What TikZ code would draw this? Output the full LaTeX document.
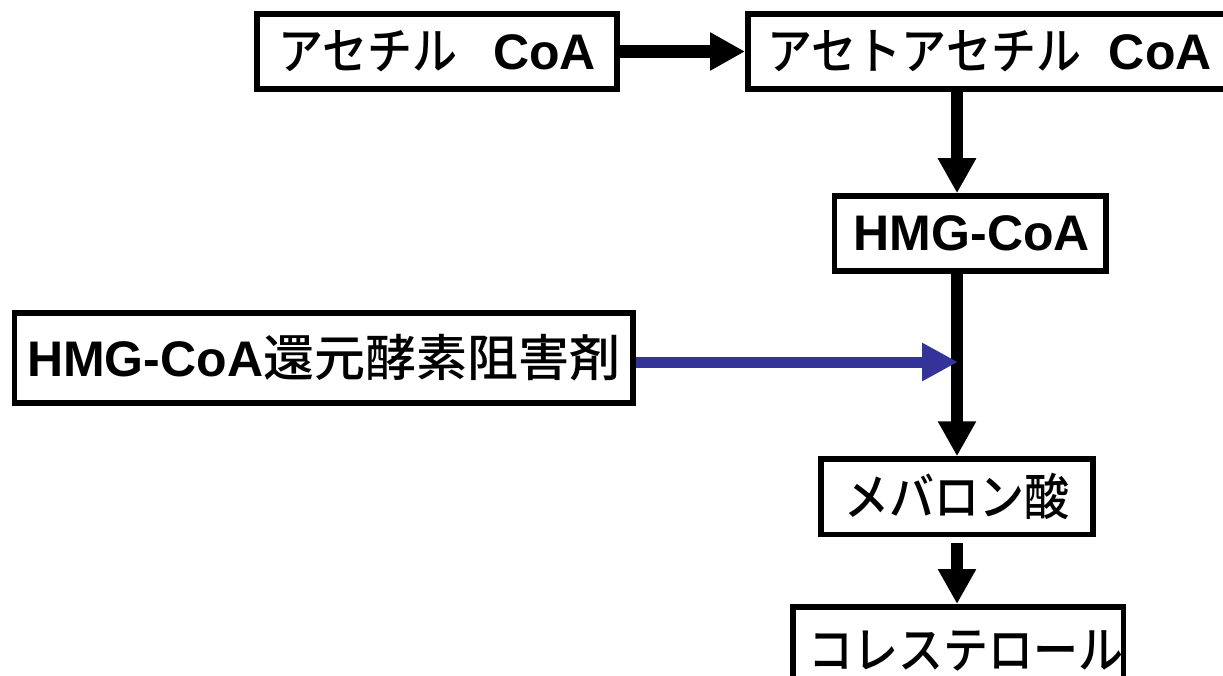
\documentclass[tikz,border=0pt]{standalone}
\usepackage{fontspec}
\setmainfont{Liberation Sans}
\newfontfamily\jp{Noto Sans CJK JP Medium}[FakeStretch=0.9, BoldFont={Noto Sans CJK JP Medium}]
\newfontfamily\jpw{Noto Sans CJK JP Medium}[FakeStretch=1.02, BoldFont={Noto Sans CJK JP Medium}]
\usetikzlibrary{arrows.meta}
\definecolor{inhib}{RGB}{51,51,153}
\begin{document}
\begin{tikzpicture}[x=1pt,y=-1pt,
  font=\fontsize{50}{60}\selectfont\bfseries,
  box/.style={draw, line width=5.5pt, inner sep=0pt, fill=white},
  arr/.style={line width=12.5pt, -{Triangle[length=35pt,width=36pt]}},
  inhibarr/.style={draw=inhib, line width=11pt, -{Triangle[length=36pt,width=36pt,fill=inhib]}}]
\useasboundingbox (0,0) rectangle (1223,676);
\clip (0,0) rectangle (1223,676);
\node[box, minimum width=360pt, minimum height=75pt] (A) at (437,51.5) {{\jp アセチル}\hspace{36pt}CoA};
\node[box, anchor=west, minimum height=75pt, inner xsep=20pt] (B) at (745,51.5) {\makebox[500pt][l]{{\jp アセトアセチル}\hspace{28pt}CoA}};
\node[box, minimum width=271.5pt, minimum height=75pt] (H) at (970.25,233.5) {\hspace{3pt}HMG-CoA};
\node[box, minimum width=618.5pt, minimum height=90pt] (I) at (323.75,358) {HMG-CoA{\jpw 還元酵素阻害剤}};
\node[box, minimum width=272pt, minimum height=75.5pt] (M) at (957,496.75) {\jp メバロン酸};
\node[box, anchor=north west, minimum height=88pt, inner xsep=16pt] (C) at (790,604) {\makebox[298.5pt][l]{\jp コレステロール}};
\coordinate (axis) at (957,0);
\coordinate (hit) at (958,362);
\draw[arr] (A.east) -- (B.west);
\draw[arr] (axis |- B.south) -- (axis |- H.north);
\draw[arr] (axis |- H.south) -- (axis |- M.north);
\draw[arr] ([yshift=-6pt]M.south) -- (axis |- C.north);
\draw[inhibarr] (I.east |- hit) -- (hit);
\end{tikzpicture}
\end{document}
